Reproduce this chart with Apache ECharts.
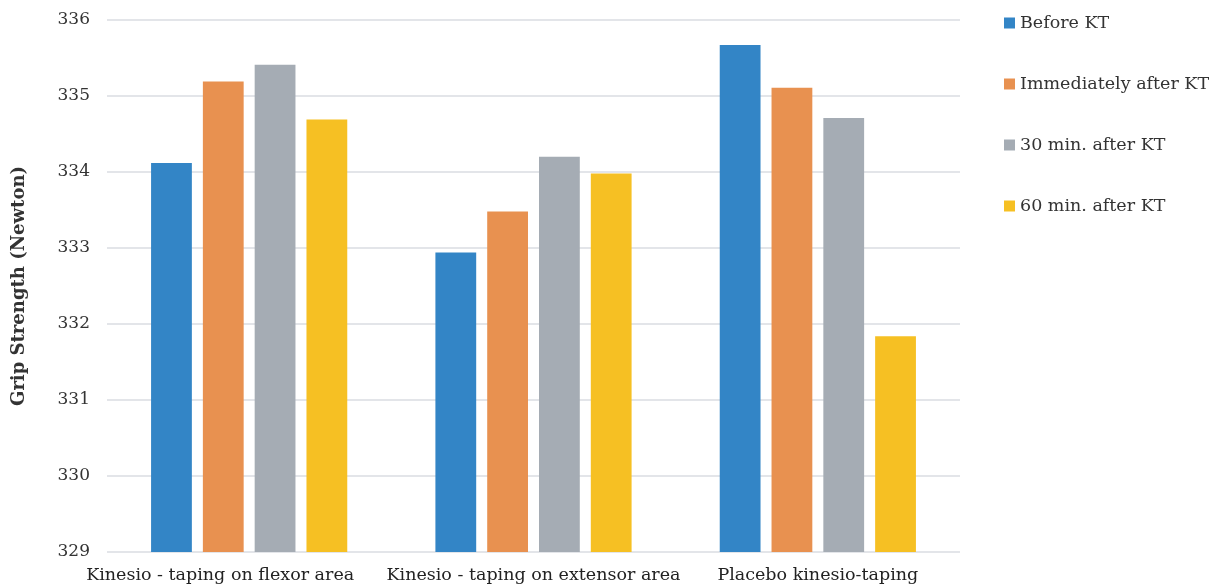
<!DOCTYPE html>
<html><head><meta charset="utf-8">
<script src="https://cdn.jsdelivr.net/npm/echarts@6/dist/echarts.min.js"></script>
<style>html,body{margin:0;padding:0;background:#fff}#c{width:1221px;height:588px}</style>
</head><body><div id="c"></div>
<script>
const categories = ['Kinesio - taping on flexor area', 'Kinesio - taping on extensor area', 'Placebo kinesio-taping'];
const seriesNames = ['Before KT', 'Immediately after KT', '30 min. after KT', '60 min. after KT'];
const beforeKT = [334.12, 332.94, 335.67];
const immediatelyAfterKT = [335.19, 333.48, 335.11];
const after30 = [335.41, 334.20, 334.71];
const after60 = [334.69, 333.98, 331.84];
const colors = ['#3385C6', '#E89150', '#A5ACB4', '#F6C023'];
const values = [beforeKT, immediatelyAfterKT, after30, after60];
const FONT = 'DejaVu Serif';

const chart = echarts.init(document.getElementById('c'));
chart.setOption({
  animation: false,
  textStyle: { fontFamily: FONT },
  grid: { left: 107, right: 261, top: 20, bottom: 36 },
  legend: {
    orient: 'vertical', left: 999, top: 9, itemGap: 43,
    itemWidth: 11, itemHeight: 11, icon: 'rect',
    textStyle: { fontFamily: FONT, fontSize: 17.5, color: '#333' },
    data: seriesNames
  },
  xAxis: {
    type: 'category', data: categories,
    axisLine: { show: false }, axisTick: { show: false },
    axisLabel: {
      fontFamily: FONT, fontSize: 17.5, color: '#222', margin: 14, interval: 0,
      formatter: (v, i) => i === 0 ? '{s|' + v + '}' : v,
      rich: { s: { fontFamily: FONT, fontSize: 17.5, color: '#222', padding: [0, 58, 0, 0] } }
    }
  },
  yAxis: {
    type: 'value', min: 329, max: 336, interval: 1,
    name: 'Grip Strength (Newton)', nameLocation: 'middle', nameGap: 79, nameRotate: 90,
    nameTextStyle: { fontFamily: FONT, fontSize: 18, fontWeight: 'bold', color: '#333' },
    axisLine: { show: false }, axisTick: { show: false },
    axisLabel: { fontFamily: FONT, fontSize: 17, color: '#333', margin: 17 },
    splitLine: { lineStyle: { color: '#DADDE2', width: 1.5 } }
  },
  series: seriesNames.map((n, i) => ({
    name: n, type: 'bar', data: values[i],
    barGap: '27%', barCategoryGap: '31%',
    itemStyle: { color: colors[i] }
  }))
});
</script></body></html>
